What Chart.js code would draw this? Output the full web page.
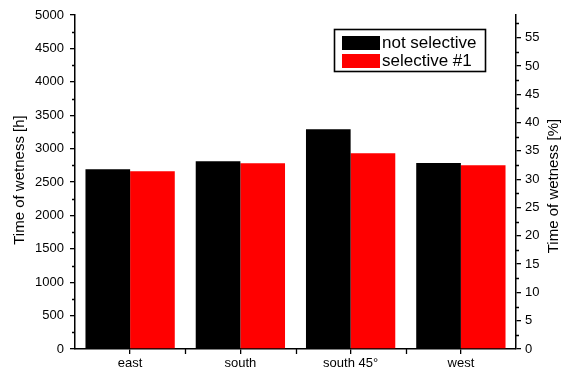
<!DOCTYPE html>
<html>
<head>
<meta charset="utf-8">
<script src="https://cdn.jsdelivr.net/npm/chart.js@4"></script>
<style>
  html, body { margin: 0; padding: 0; background: #fff; }
  #wrap { width: 562px; height: 372px; }
</style>
</head>
<body>
<div id="wrap"><canvas id="c" width="562" height="372"></canvas></div>
<script>
// Orientation categories
const categories = ['east', 'south', 'south 45°', 'west'];
// Time of wetness in hours per orientation
const notSelective = [2690, 2810, 3290, 2785];
const selective1 = [2660, 2780, 2930, 2750];
const seriesNames = ['not selective', 'selective #1'];
// Axis ranges
const hoursMax = 5000;
const hoursStep = 500;
const percentMax = 59;
const percentStep = 5;

const FONT = 'Liberation Sans, Arial, sans-serif';

// Minor ticks, category boundary ticks, rotated axis titles and the framed legend
const decorations = {
  id: 'decorations',
  afterDraw(chart) {
    const ctx = chart.ctx;
    const { y, y1, x } = chart.scales;
    const area = chart.chartArea;
    ctx.save();
    ctx.strokeStyle = '#000';
    ctx.lineWidth = 1.3;
    ctx.beginPath();
    for (let v = hoursStep / 2; v < hoursMax; v += hoursStep) {
      const py = Math.round(y.getPixelForValue(v)) + 0.5;
      ctx.moveTo(area.left - 3, py);
      ctx.lineTo(area.left, py);
    }
    for (let v = percentStep / 2; v < percentMax; v += percentStep) {
      const py = Math.round(y1.getPixelForValue(v)) + 0.5;
      ctx.moveTo(area.right, py);
      ctx.lineTo(area.right + 3, py);
    }
    for (let i = 0; i < categories.length - 1; i++) {
      const px = Math.round((x.getPixelForValue(i) + x.getPixelForValue(i + 1)) / 2) + 0.5;
      ctx.moveTo(px, area.bottom);
      ctx.lineTo(px, area.bottom + 5);
    }
    ctx.stroke();

    // axis titles, both reading bottom to top
    ctx.fillStyle = '#000';
    ctx.font = '15px ' + FONT;
    ctx.textAlign = 'center';
    ctx.textBaseline = 'middle';
    const midY = (area.top + area.bottom) / 2;
    ctx.save();
    ctx.translate(19.5, midY - 2);
    ctx.rotate(-Math.PI / 2);
    ctx.fillText('Time of wetness [h]', 0, 0);
    ctx.restore();
    ctx.save();
    ctx.translate(553.5, midY + 4);
    ctx.rotate(-Math.PI / 2);
    ctx.fillText('Time of wetness [%]', 0, 0);
    ctx.restore();

    // legend box
    const bx = 334.5, by = 29.5, bw = 151, bh = 42;
    ctx.lineWidth = 1.6;
    ctx.strokeRect(bx, by, bw, bh);
    ctx.textAlign = 'left';
    ctx.font = '17px ' + FONT;
    chart.data.datasets.forEach((ds, i) => {
      const sy = 36 + i * 18;
      ctx.fillStyle = ds.backgroundColor;
      ctx.fillRect(342, sy, 38, 14);
      ctx.fillStyle = '#000';
      ctx.fillText(ds.label, 382, sy + 7.5);
    });
    ctx.restore();
  }
};

new Chart(document.getElementById('c'), {
  type: 'bar',
  data: {
    labels: categories,
    datasets: [
      { label: seriesNames[0], data: notSelective, backgroundColor: '#000000', yAxisID: 'y' },
      { label: seriesNames[1], data: selective1, backgroundColor: '#ff0000', yAxisID: 'y' }
    ]
  },
  options: {
    responsive: false,
    animation: false,
    devicePixelRatio: 1,
    layout: { padding: { top: 15, left: 0, right: 0, bottom: 0 } },
    datasets: { bar: { barPercentage: 1, categoryPercentage: 0.81 } },
    plugins: { legend: { display: false }, tooltip: { enabled: false } },
    scales: {
      x: {
        type: 'category',
        offset: true,
        border: { color: '#000', width: 1.5 },
        grid: { drawOnChartArea: false, offset: false, tickLength: 5, color: '#000', lineWidth: 1.3 },
        ticks: { color: '#000', font: { family: FONT, size: 13 }, padding: 2, maxRotation: 0 },
        afterFit(s) { s.height = 23; }
      },
      y: {
        position: 'left',
        min: 0,
        max: hoursMax,
        border: { color: '#000', width: 1.5 },
        grid: { drawOnChartArea: false, tickLength: 5, color: '#000', lineWidth: 1.3 },
        ticks: {
          stepSize: hoursStep, color: '#000', font: { family: FONT, size: 13 }, padding: 6,
          callback: v => String(v)
        },
        afterFit(s) { s.width = 75; }
      },
      y1: {
        position: 'right',
        min: 0,
        max: percentMax,
        border: { color: '#000', width: 1.5 },
        grid: { drawOnChartArea: false, tickLength: 5, color: '#000', lineWidth: 1.3 },
        ticks: {
          stepSize: percentStep, color: '#000', font: { family: FONT, size: 13 }, padding: 4,
          callback: v => String(v)
        },
        afterBuildTicks(s) { s.ticks = s.ticks.filter(t => t.value % percentStep === 0); },
        afterFit(s) { s.width = 46; }
      }
    }
  },
  plugins: [decorations]
});
</script>
</body>
</html>
